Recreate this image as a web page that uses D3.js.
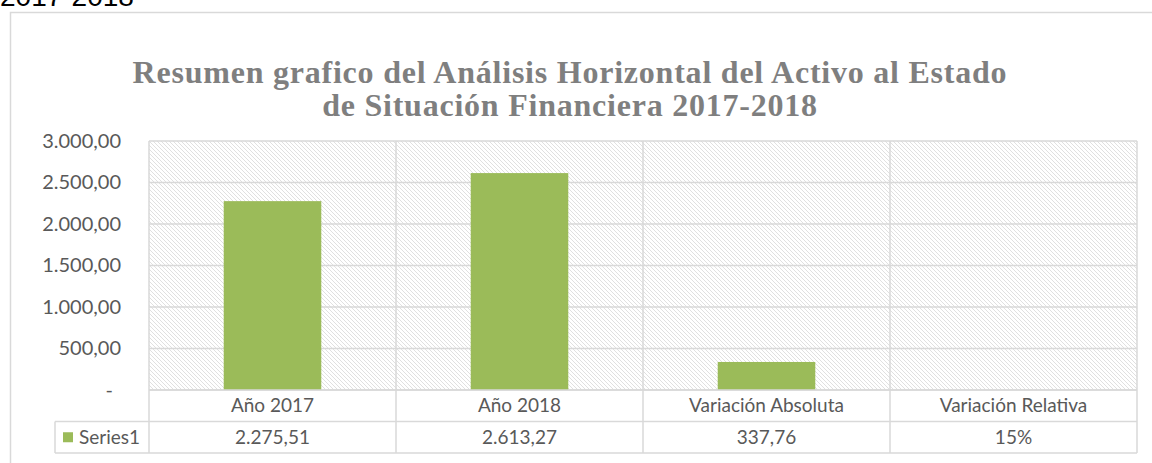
<!DOCTYPE html>
<html>
<head>
<meta charset="utf-8">
<script src="https://cdn.jsdelivr.net/npm/d3@7"></script>
<style>
  body { margin: 0; background: #fff; }
  svg { display: block; }
</style>
</head>
<body>
<div id="chart"></div>
<script>
// chart data
let categories = ['Año 2017', 'Año 2018', 'Variación Absoluta', 'Variación Relativa'];
let series1 = [2275.51, 2613.27, 337.76, 0.15];
let valueKinds = ['num', 'num', 'num', 'pct'];
let yTicks = [0, 500, 1000, 1500, 2000, 2500, 3000];
let seriesName = 'Series1';
let titleLines = ['Resumen grafico del Análisis Horizontal del Activo al Estado',
  'de Situación Financiera 2017-2018'];

let width = 1152, height = 463;
let gridColor = '#d9d9d9';
let textColor = '#595959';
let barColor = '#9bbb59';

let plot = {left: 149, right: 1137, top: 141, bottom: 390};
let rowH = 31.5;
let legendLeft = 55;

let locale = d3.formatLocale({decimal: ',', thousands: '.', grouping: [3], currency: ['', '']});
let numFmt = locale.format(',.2f');
let pctFmt = locale.format('.0%');

let svg = d3.select('#chart')
  .append('svg')
  .attr('width', width)
  .attr('height', height);

// hatch pattern for the plot area
let pat = svg.append('defs').append('pattern')
  .attr('id', 'hatch')
  .attr('patternUnits', 'userSpaceOnUse')
  .attr('width', 4)
  .attr('height', 4);
pat.append('rect').attr('width', 4).attr('height', 4).attr('fill', '#fff');
pat.append('path')
  .attr('d', 'M-1,-1 L5,5 M-1,3 L1,5 M3,-1 L5,1')
  .attr('stroke', '#e0e0e0')
  .attr('stroke-width', 1);

// clipped text on top of the frame
svg.append('text')
  .attr('x', 0)
  .attr('y', 6)
  .style('font-family', 'Liberation Sans, Arial, sans-serif')
  .style('font-size', '28px')
  .attr('fill', '#000')
  .text('2017-2018');

// outer chart frame
svg.append('rect')
  .attr('x', 10.5)
  .attr('y', 12.5)
  .attr('width', width)
  .attr('height', height)
  .attr('fill', 'none')
  .attr('stroke', gridColor)
  .attr('stroke-width', 1.5);

// title - spread the letters so the first line gets Excel's width
let title = svg.append('g');
let titleText = titleLines.map(function(line, i) {
  return title.append('text')
    .attr('x', 570)
    .attr('y', 83 + i * 33)
    .attr('text-anchor', 'middle')
    .style('font-family', 'Liberation Serif, serif')
    .style('font-weight', 'bold')
    .style('font-size', '32px')
    .attr('fill', '#7f7f7f')
    .text(line);
});
let w0 = titleText[0].node().getComputedTextLength();
let ls = (874 - w0) / (titleLines[0].length - 1);
titleText.forEach(function(t) { t.style('letter-spacing', ls + 'px'); });

let x = d3.scaleBand()
  .domain(categories)
  .range([plot.left, plot.right])
  .padding(0);

let y = d3.scaleLinear()
  .domain([0, 3000])
  .range([plot.bottom, plot.top]);

svg.append('rect')
  .attr('x', plot.left)
  .attr('y', plot.top)
  .attr('width', plot.right - plot.left)
  .attr('height', plot.bottom - plot.top)
  .attr('fill', 'url(#hatch)');

// horizontal gridlines
svg.append('g')
  .selectAll('line')
  .data(yTicks)
  .enter()
  .append('line')
  .attr('x1', plot.left)
  .attr('x2', plot.right)
  .attr('y1', function(d) { return y(d); })
  .attr('y2', function(d) { return y(d); })
  .attr('stroke', gridColor)
  .attr('stroke-width', 1.5);

// y axis labels
let yAxis = svg.append('g')
  .attr('transform', 'translate(' + (plot.left - 28) + ',0)')
  .call(d3.axisLeft(y)
    .tickValues(yTicks)
    .tickSize(0)
    .tickPadding(0)
    .tickFormat(function(d) { return d === 0 ? '-' : numFmt(d); }));
yAxis.select('.domain').remove();
yAxis.selectAll('text')
  .style('font-family', 'Lato, sans-serif')
  .style('font-size', '20px')
  .attr('fill', textColor);
yAxis.selectAll('.tick')
  .filter(function(d) { return d === 0; })
  .select('text')
  .attr('dx', -8);

// bars
let barW = x.bandwidth() * 0.395;
svg.append('g')
  .selectAll('rect')
  .data(series1)
  .enter()
  .append('rect')
  .attr('x', function(d, i) { return x(categories[i]) + (x.bandwidth() - barW) / 2; })
  .attr('y', function(d) { return y(d); })
  .attr('width', barW)
  .attr('height', function(d) { return y(0) - y(d); })
  .attr('fill', barColor);

// data table grid
let table = svg.append('g')
  .attr('stroke', gridColor)
  .attr('stroke-width', 1.5)
  .attr('fill', 'none');
let row1 = plot.bottom, row2 = plot.bottom + rowH, row3 = plot.bottom + 2 * rowH;
table.append('line').attr('x1', plot.left).attr('x2', plot.right).attr('y1', row1).attr('y2', row1);
table.append('line').attr('x1', legendLeft).attr('x2', plot.right).attr('y1', row2).attr('y2', row2);
table.append('line').attr('x1', legendLeft).attr('x2', plot.right).attr('y1', row3).attr('y2', row3);
table.append('line').attr('x1', legendLeft).attr('x2', legendLeft).attr('y1', row2).attr('y2', row3);
let vlines = categories.map(function(c) { return x(c); }).concat([plot.right]);
table.selectAll('.vl')
  .data(vlines)
  .enter()
  .append('line')
  .attr('x1', function(d) { return d; })
  .attr('x2', function(d) { return d; })
  .attr('y1', plot.top)
  .attr('y2', row3);

// category labels row
svg.append('g')
  .selectAll('text')
  .data(categories)
  .enter()
  .append('text')
  .attr('x', function(d) { return x(d) + x.bandwidth() / 2; })
  .attr('y', row1 + rowH / 2)
  .attr('dy', '0.35em')
  .attr('text-anchor', 'middle')
  .style('font-family', 'Lato, sans-serif')
  .style('font-size', '19px')
  .attr('fill', textColor)
  .text(function(d) { return d; });

// values row
svg.append('g')
  .selectAll('text')
  .data(series1)
  .enter()
  .append('text')
  .attr('x', function(d, i) { return x(categories[i]) + x.bandwidth() / 2; })
  .attr('y', row2 + rowH / 2)
  .attr('dy', '0.35em')
  .attr('text-anchor', 'middle')
  .style('font-family', 'Lato, sans-serif')
  .style('font-size', '19px')
  .attr('fill', textColor)
  .text(function(d, i) { return valueKinds[i] === 'pct' ? pctFmt(d) : numFmt(d); });

// legend key
svg.append('rect')
  .attr('x', legendLeft + 8)
  .attr('y', row2 + rowH / 2 - 5)
  .attr('width', 10)
  .attr('height', 10)
  .attr('fill', barColor);
svg.append('text')
  .attr('x', legendLeft + 24)
  .attr('y', row2 + rowH / 2)
  .attr('dy', '0.35em')
  .style('font-family', 'Lato, sans-serif')
  .style('font-size', '19px')
  .attr('fill', textColor)
  .text(seriesName);
</script>
</body>
</html>
